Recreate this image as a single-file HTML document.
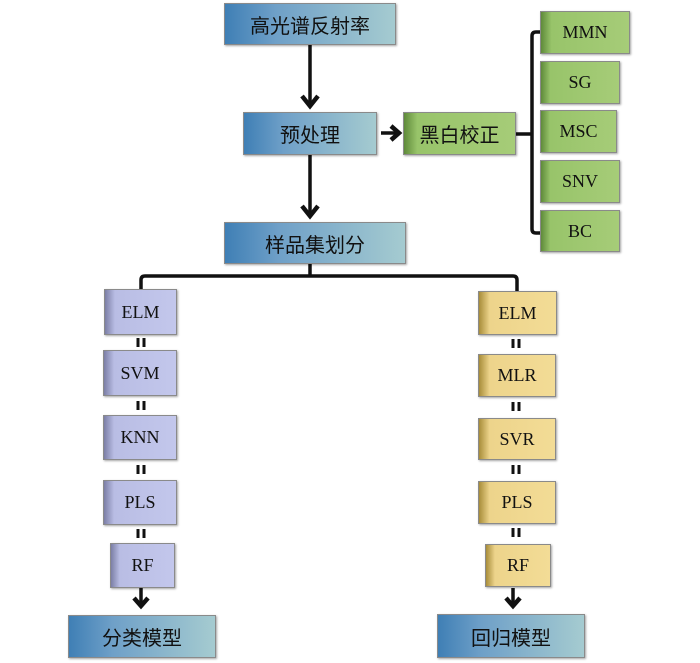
<!DOCTYPE html>
<html><head><meta charset="utf-8"><style>
body{margin:0;width:700px;height:663px;background:#fff;position:relative;overflow:hidden;font-family:"Liberation Serif","Noto Sans CJK SC",serif;}
.b{position:absolute;box-sizing:border-box;display:flex;align-items:center;justify-content:center;color:#111;border:1px solid #8a8a8a;box-shadow:1px 1px 2px rgba(0,0,0,.35);}
.blue{background:linear-gradient(90deg,#3f7fb5 0%,#6fa0c8 30%,#a5cbd0 100%);font-family:"Liberation Sans","Noto Sans CJK SC",sans-serif;font-size:20px;}
.grn{background:linear-gradient(90deg,#5f8a3a 0%,#98c46a 12%,#a6cc78 100%);font-size:18px;}
.pur{background:linear-gradient(90deg,#7c7fa6 0%,#b9bde4 14%,#c3c7ec 100%);font-size:18px;}
.yel{background:linear-gradient(90deg,#a88d3a 0%,#edd48b 14%,#f3dc96 100%);font-size:18px;}
.cn{font-family:"Liberation Sans","Noto Sans CJK SC",sans-serif;font-size:20px;}
svg{position:absolute;left:0;top:0}
</style></head><body>
<svg width="700" height="663">
<g stroke="#111" stroke-width="3.5" fill="none">
<line x1="310" y1="45" x2="310" y2="104"/><polyline points="302,96 310,106 318,96" stroke-width="4.5"/>
<line x1="310" y1="155" x2="310" y2="214"/><polyline points="302,206 310,216 318,206" stroke-width="4.5"/>
<line x1="381" y1="133" x2="398" y2="133"/><polyline points="391,126 399,133 391,140" stroke-width="4.5"/>
<line x1="516" y1="134" x2="532" y2="134"/>
<path d="M540,32 H536 Q532,32 532,36 V229 Q532,233 536,233 H540"/>
<line x1="310" y1="264" x2="310" y2="276"/>
<path d="M141,289 V280 Q141,276 145,276 H513 Q517,276 517,280 V291"/>
<line x1="141" y1="588" x2="141" y2="604"/><polyline points="134,598 141,606 148,598" stroke-width="4.5"/>
<line x1="513" y1="588" x2="513" y2="604"/><polyline points="506,598 513,606 520,598" stroke-width="4.5"/>
</g>
<g stroke="#111" stroke-width="3">
<line x1="138" y1="338" x2="138" y2="347"/><line x1="144" y1="338" x2="144" y2="347"/>
<line x1="138" y1="401" x2="138" y2="410"/><line x1="144" y1="401" x2="144" y2="410"/>
<line x1="138" y1="465" x2="138" y2="474"/><line x1="144" y1="465" x2="144" y2="474"/>
<line x1="138" y1="529" x2="138" y2="538"/><line x1="144" y1="529" x2="144" y2="538"/>
<line x1="513" y1="339" x2="513" y2="348"/><line x1="519" y1="339" x2="519" y2="348"/>
<line x1="513" y1="402" x2="513" y2="411"/><line x1="519" y1="402" x2="519" y2="411"/>
<line x1="513" y1="465" x2="513" y2="474"/><line x1="519" y1="465" x2="519" y2="474"/>
<line x1="513" y1="528" x2="513" y2="537"/><line x1="519" y1="528" x2="519" y2="537"/>
</g>
</svg>
<div class="b blue" style="left:224px;top:3px;width:172px;height:42px">高光谱反射率</div>
<div class="b blue" style="left:243px;top:112px;width:134px;height:43px">预处理</div>
<div class="b grn cn" style="left:403px;top:112px;width:113px;height:43px">黑白校正</div>
<div class="b blue" style="left:224px;top:222px;width:182px;height:42px">样品集划分</div>
<div class="b grn" style="left:540px;top:11px;width:90px;height:43px">MMN</div>
<div class="b grn" style="left:540px;top:61px;width:80px;height:43px">SG</div>
<div class="b grn" style="left:540px;top:110px;width:77px;height:43px">MSC</div>
<div class="b grn" style="left:540px;top:160px;width:80px;height:43px">SNV</div>
<div class="b grn" style="left:540px;top:210px;width:80px;height:42px">BC</div>
<div class="b pur" style="left:104px;top:289px;width:73px;height:46px">ELM</div>
<div class="b pur" style="left:103px;top:350px;width:74px;height:46px">SVM</div>
<div class="b pur" style="left:103px;top:415px;width:74px;height:45px">KNN</div>
<div class="b pur" style="left:103px;top:480px;width:74px;height:45px">PLS</div>
<div class="b pur" style="left:110px;top:543px;width:65px;height:45px">RF</div>
<div class="b blue" style="left:68px;top:615px;width:148px;height:43px">分类模型</div>
<div class="b yel" style="left:478px;top:291px;width:79px;height:44px">ELM</div>
<div class="b yel" style="left:478px;top:354px;width:78px;height:43px">MLR</div>
<div class="b yel" style="left:478px;top:418px;width:78px;height:42px">SVR</div>
<div class="b yel" style="left:478px;top:481px;width:78px;height:43px">PLS</div>
<div class="b yel" style="left:485px;top:544px;width:66px;height:43px">RF</div>
<div class="b blue" style="left:437px;top:614px;width:148px;height:44px">回归模型</div>
</body></html>
